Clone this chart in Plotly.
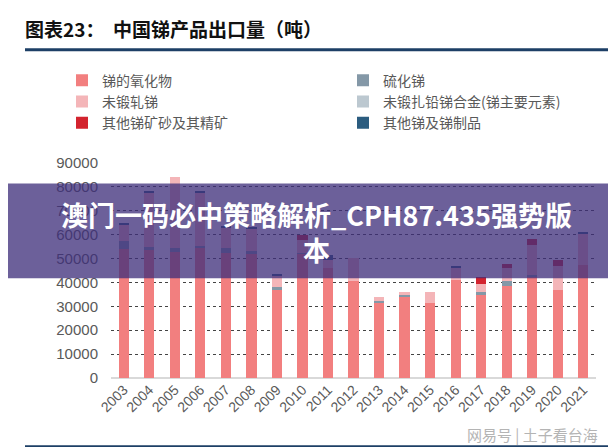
import plotly.graph_objects as go

years = ["2003", "2004", "2005", "2006", "2007", "2008", "2009", "2010", "2011", "2012",
         "2013", "2014", "2015", "2016", "2017", "2018", "2019", "2020", "2021"]

oxide = [53900, 53600, 52900, 54300, 52200, 51800, 37000, 52000, 46000, 40400,
         31500, 33700, 31300, 41000, 34800, 38700, 42500, 37000, 47300]
sulfide = [3400, 1400, 1400, 1100, 2100, 1400, 1200, 500, 0, 0,
           800, 1000, 0, 0, 1400, 1700, 600, 0, 0]
unwrought = [7000, 22500, 29900, 22300, 8600, 9200, 4500, 5200, 3600, 9700,
             1800, 1100, 4600, 5300, 3000, 5500, 12600, 9900, 13200]
alloy = [0, 0, 0, 0, 0, 0, 0, 0, 0, 0,
         0, 0, 0, 0, 0, 0, 0, 0, 0]
ore = [0, 0, 0, 0, 0, 0, 0, 2200, 0, 0,
       0, 0, 0, 0, 3200, 1900, 2400, 2400, 0]
other = [500, 500, 0, 500, 500, 500, 700, 0, 1800, 0,
         0, 0, 0, 500, 0, 0, 0, 0, 500]

series = [
    ("锑的氧化物", oxide, "#f27f7f", "legend"),
    ("硫化锑", sulfide, "#8498a7", "legend2"),
    ("未锻轧锑", unwrought, "#f4b5b8", "legend"),
    ("未锻扎铅锑合金(锑主要元素)", alloy, "#bcc8d0", "legend2"),
    ("其他锑矿砂及其精矿", ore, "#d3232e", "legend"),
    ("其他锑及锑制品", other, "#2b5c7f", "legend2"),
]

fig = go.Figure()
for name, vals, color, lg in series:
    fig.add_trace(go.Bar(x=years, y=vals, name=name, marker=dict(color=color, line=dict(width=0)),
                         legend=lg))

# plot area in px: x 103..588, y 154.5..370
W, H = 616, 447
L, R, T, B = 103, 28, 154.5, 77
pw = W - L - R
ph = H - T - B

def px_x(x):
    return (x - L) / pw

def px_y(y):
    return (H - B - y) / ph

cjk = "Noto Sans CJK SC"
latin = "Liberation Sans, Arial, sans-serif"

fig.update_layout(
    width=W, height=H,
    margin=dict(l=L, r=R, t=T, b=B, pad=0),
    barmode="stack",
    bargap=0.6,
    paper_bgcolor="white",
    plot_bgcolor="white",
    showlegend=True,
    title=dict(text="<b>图表23：  中国锑产品出口量（吨）</b>", x=17 / W, xanchor="left",
               y=1 - 22 / H, yanchor="middle", xref="container", yref="container",
               font=dict(family=cjk, size=19, color="#111111")),
    legend=dict(x=px_x(54), y=px_y(56), xanchor="left", yanchor="top", orientation="v",
                traceorder="normal", font=dict(family=cjk, size=14, color="#595959"),
                bgcolor="rgba(0,0,0,0)", itemwidth=30),
    legend2=dict(x=px_x(335), y=px_y(56), xanchor="left", yanchor="top", orientation="v",
                 traceorder="normal", font=dict(family=cjk, size=14, color="#595959"),
                 bgcolor="rgba(0,0,0,0)", itemwidth=30),
    xaxis=dict(type="category", tickangle=-45, showgrid=False, showline=False,
               tickfont=dict(family=latin, size=14, color="#595959"), ticks=""),
    yaxis=dict(range=[0, 90000], dtick=10000, tickformat="d", showgrid=True,
               gridcolor="#444444", griddash="dot", gridwidth=1,
               zeroline=True, zerolinecolor="#d9d9d9", zerolinewidth=2,
               tickfont=dict(family=latin, size=15, color="#595959"),
               ticklabelstandoff=12, showline=False),
)

# header and footer rules
fig.add_shape(type="line", xref="paper", yref="paper", x0=px_x(17), x1=px_x(616),
              y0=px_y(41), y1=px_y(41), line=dict(color="#1d3f66", width=3))
fig.add_shape(type="line", xref="paper", yref="paper", x0=px_x(17), x1=px_x(616),
              y0=px_y(439), y1=px_y(439), line=dict(color="#1d3f66", width=3))

# watermark
fig.add_annotation(text="网易号 | 土子看台海", xref="paper", yref="paper",
                   x=px_x(592), y=px_y(427), xanchor="right", yanchor="middle",
                   showarrow=False, font=dict(family=cjk, size=15, color="#b4b4b4"))

# overlay banner
fig.add_shape(type="rect", xref="paper", yref="paper", x0=px_x(0), x1=px_x(616),
              y0=px_y(270), y1=px_y(175), fillcolor="rgba(62,46,122,0.76)",
              line=dict(width=0), layer="above")
fig.add_annotation(text="<b>澳门一码必中策略解析_CPH87.435强势版<br>本</b>", xref="paper", yref="paper",
                   x=px_x(308), y=px_y(223.5), xanchor="center", yanchor="middle",
                   showarrow=False, align="center",
                   font=dict(family=cjk, size=27, color="white"))

fig.write_html("out.html")
